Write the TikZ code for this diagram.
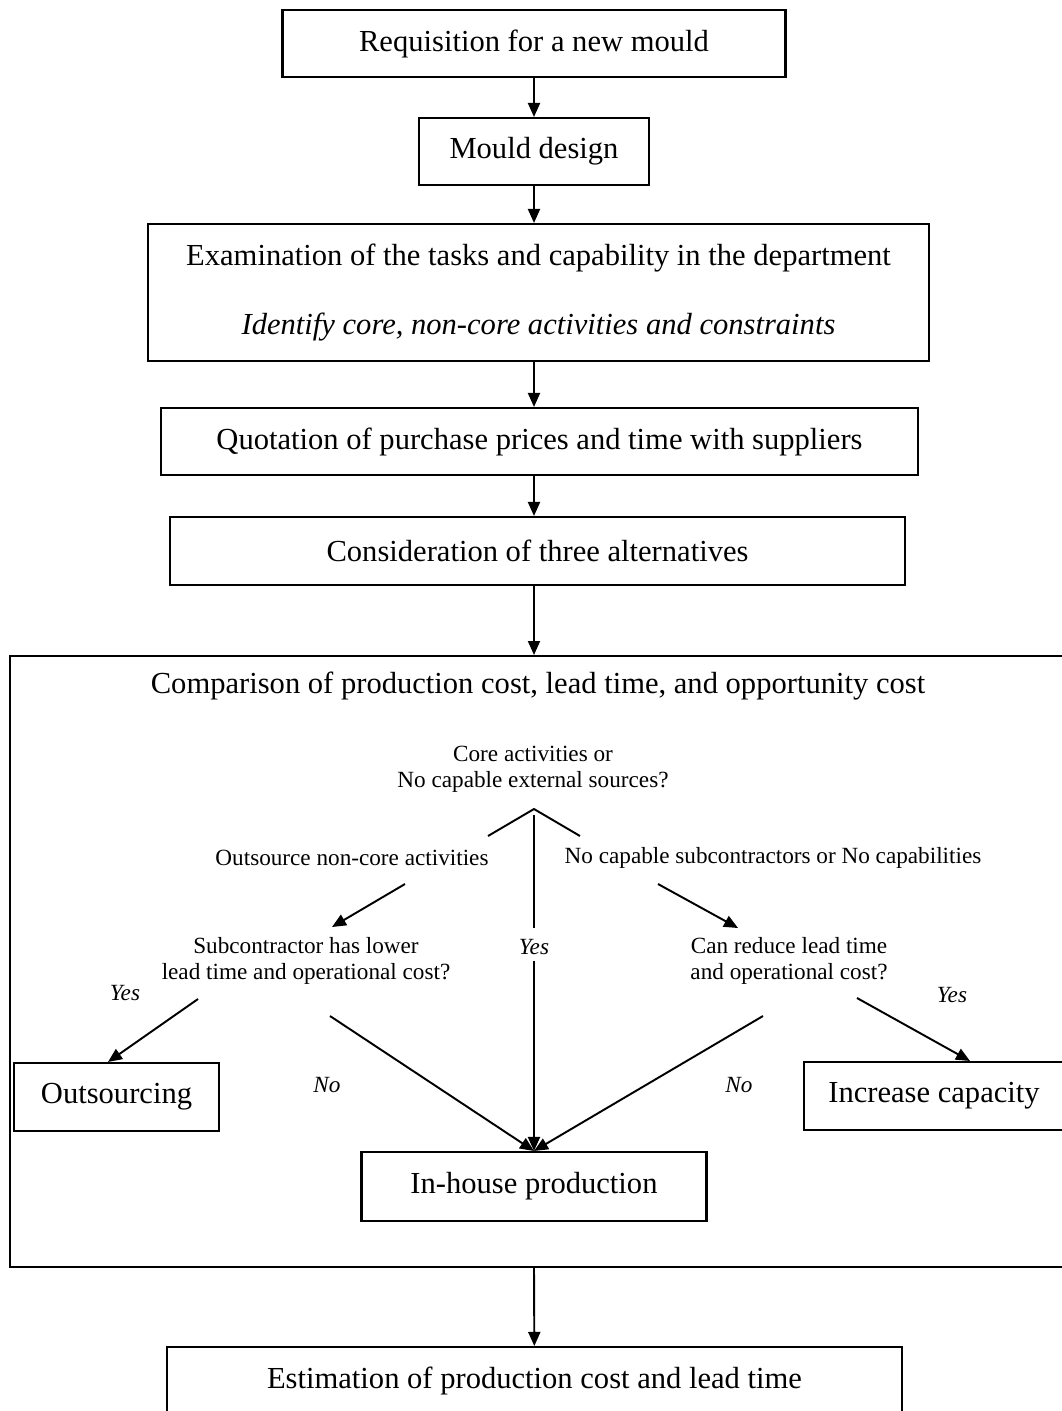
\documentclass[tikz,border=0pt]{standalone}
\usepackage{fontspec}
\setmainfont{Liberation Serif}
\usetikzlibrary{arrows.meta, positioning}
\tikzset{
	box/.style      ={rectangle, draw=black, line width=1.2pt, inner sep=0pt, align=center, font=\fontsize{17.4}{20}\selectfont},
	bigbox/.style   ={rectangle, draw=black, line width=1.2pt, inner sep=0pt},
	title/.style    ={align=center, font=\fontsize{17.4}{20}\selectfont},
	question/.style ={align=center, font=\fontsize{13.2}{15}\selectfont},
	answer/.style   ={font=\fontsize{13.2}{15}\selectfont\itshape},
	flowarrow/.style={-{Triangle[length=2.8mm, width=2.4mm]}, line width=1.1pt},
	plainline/.style={line width=1.1pt},
}
\begin{document}
\begin{tikzpicture}[x=0.02cm, y=-0.02cm]
	\useasboundingbox (0,0) rectangle (1062,1411);
	% main chain
	\node[box, minimum width=10.06cm, minimum height=1.34cm] (req) at (534,43.5) {Requisition for a new mould};
	\node[box, minimum width=4.6cm, minimum height=1.34cm] (mould) at (534,151.5) {Mould design};
	\node[box, minimum width=15.62cm, minimum height=2.74cm] (exam) at (538.5,292.5) {Examination of the tasks and capability in the department\\[19.5pt] \textit{Identify core, non-core activities and constraints}};
	\node[box, minimum width=15.14cm, minimum height=1.34cm] (quot) at (539.5,441.5) {Quotation of purchase prices and time with suppliers};
	\node[box, minimum width=14.7cm, minimum height=1.36cm] (cons) at (537.5,551) {Consideration of three alternatives};
	\draw[flowarrow] (req) -- (mould);
	\draw[flowarrow] (mould) -- (mould |- exam.north);
	\draw[flowarrow] (mould |- exam.south) -- (mould |- quot.north);
	\draw[flowarrow] (mould |- quot.south) -- (mould |- cons.north);
	% comparison block
	\node[bigbox, minimum width=21.3cm, minimum height=12.22cm] (cmp) at (542.5,961.5) {};
	\node[title] (cmptitle) at (538,686) {Comparison of production cost, lead time, and opportunity cost};
	\draw[flowarrow] (mould |- cons.south) -- (mould |- cmp.north);
	\node[question] (core) at (533,769) {Core activities or\\No capable external sources?};
	\coordinate (apex) at (534,809);
	\coordinate (vleft) at (488,836);
	\coordinate (vright) at (580,836);
	\draw[plainline] (vleft) -- (apex) -- (vright);
	\node[question] (onc) at (352,858) {Outsource non-core activities};
	\node[question] (nocap) at (773,858) {No capable subcontractors or No capabilities};
	\node[question] (sub) at (306,961) {Subcontractor has lower\\lead time and operational cost?};
	\node[question] (red) at (789,961) {Can reduce lead time\\and operational cost?};
	\coordinate (onc1) at (405,884);
	\coordinate (onc2) at (332,927);
	\coordinate (nocap1) at (658,884);
	\coordinate (nocap2) at (738,928);
	\draw[flowarrow] (onc1) -- (onc2);
	\draw[flowarrow] (nocap1) -- (nocap2);
	% outcomes
	\node[box, minimum width=4.1cm, minimum height=1.36cm] (outs) at (116.5,1097) {Outsourcing};
	\node[box, minimum width=5.2cm, minimum height=1.36cm] (inc) at (934,1096) {Increase capacity};
	\node[box, minimum width=6.9cm, minimum height=1.38cm] (inh) at (534,1186.5) {In-house production};
	\node[answer] (yesc) at (534,947) {Yes};
	\coordinate (ytop) at (534,815);
	\draw[plainline] (ytop) -- ([yshift=1mm]yesc.north);
	\draw[flowarrow] (yesc.south) -- (inh.north);
	\node[answer] (yesl) at (125,993) {Yes};
	\node[answer] (yesr) at (952,995) {Yes};
	\node[answer] (nol) at (327,1085) {No};
	\node[answer] (nor) at (739,1085) {No};
	\coordinate (subl) at (198,999);
	\coordinate (subr) at (330,1016);
	\coordinate (redl) at (763,1016);
	\coordinate (redr) at (857,998);
	\draw[flowarrow] (subl) -- ([xshift=-1.7mm]outs.north);
	\draw[flowarrow] (subr) -- (inh.north);
	\draw[flowarrow] (redl) -- (inh.north);
	\draw[flowarrow] (redr) -- ([xshift=7.2mm]inc.north);
	% result
	\node[box, minimum width=14.7cm, minimum height=1.36cm] (est) at (534.5,1381) {Estimation of production cost and lead time};
	\draw[flowarrow] (inh |- cmp.south) -- (est);
\end{tikzpicture}
\end{document}
